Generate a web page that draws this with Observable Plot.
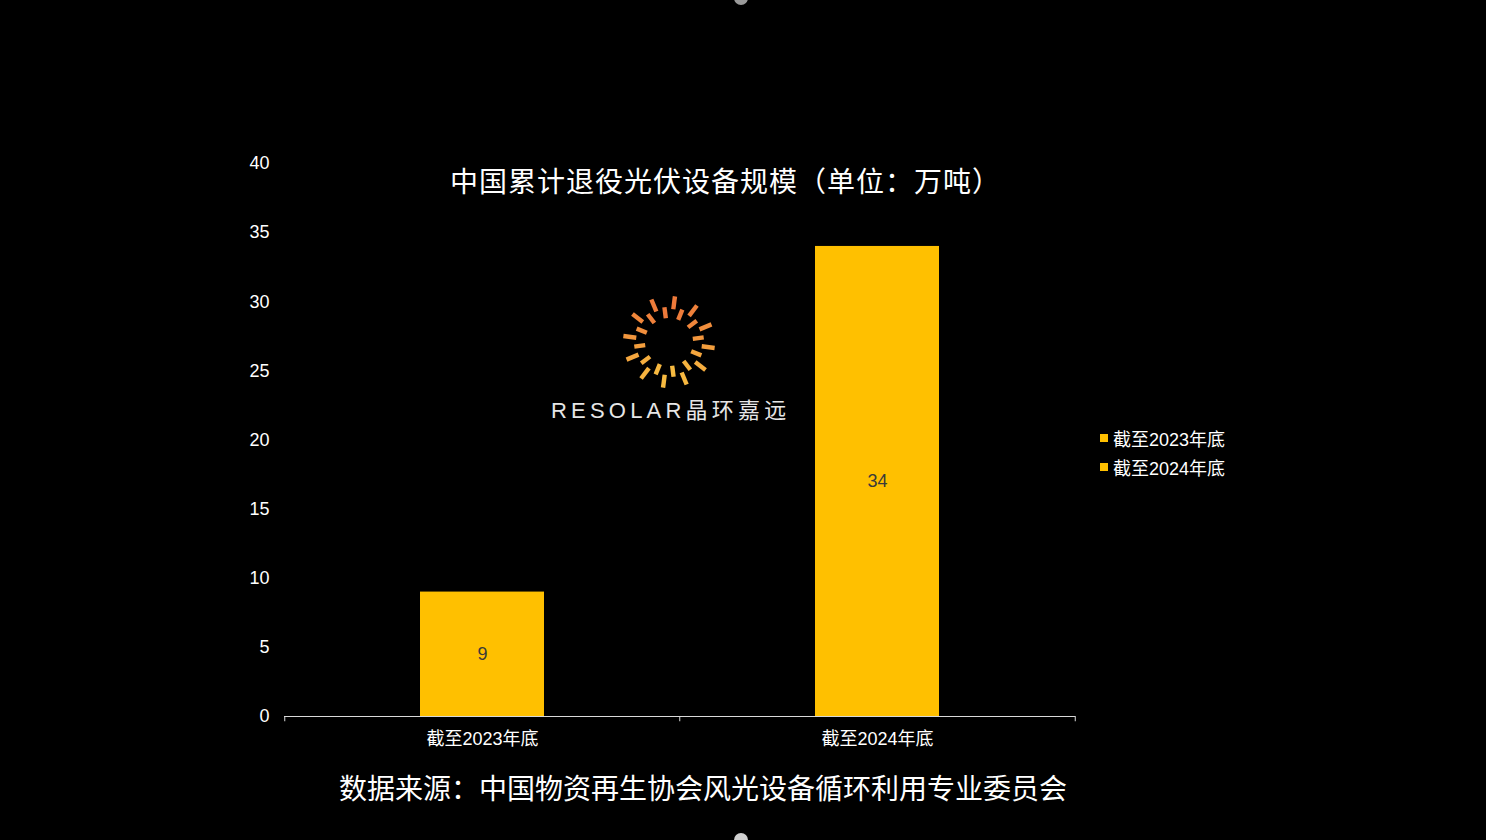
<!DOCTYPE html>
<html>
<head>
<meta charset="utf-8">
<script src="https://cdn.jsdelivr.net/npm/d3@7"></script>
<script src="https://cdn.jsdelivr.net/npm/@observablehq/plot@0.6"></script>
<style>
  html, body { margin: 0; padding: 0; background: #000; }
  #wrap { position: relative; width: 1486px; height: 840px; overflow: hidden; background: #000;
          font-family: "Liberation Sans", "Noto Sans CJK SC", sans-serif; color: #fff; }
  #title { position: absolute; left: 0; width: 1451px; top: 161px; text-align: center; letter-spacing: 1px;
           font-family: "Noto Sans CJK SC", sans-serif; font-size: 28px; color: #fff; line-height: 38px; }
  #caption { position: absolute; left: 0; width: 1406px; top: 767px; text-align: center;
             font-family: "Noto Sans CJK SC", sans-serif; font-size: 28px; color: #fff; line-height: 40px; }
  #legend { position: absolute; left: 1100px; top: 423px; font-size: 18px; color: #fff;
            font-family: "Liberation Sans", "Noto Sans CJK SC", sans-serif; }
  .li { display: flex; align-items: center; height: 29px; }
  .sw { width: 8px; height: 8px; background: #FFC000; margin-right: 5px; }
  #logo { position: absolute; left: 540px; top: 290px; }
  .dot { position: absolute; left: 734px; width: 14px; height: 14px; border-radius: 50%; background: #9a9a9a; }
</style>
</head>
<body>
<div id="wrap">
  <div id="chart"></div>
  <div id="title"></div>
  <div id="caption"></div>
  <div id="legend"></div>
  <div id="logo"></div>
  <div class="dot" style="top:-9px;"></div>
  <div class="dot" style="top:833px;background:#d0d0d0;"></div>
</div>
<script>
const categories = ["截至2023年底", "截至2024年底"];
const values = [9, 34];
const yTicks = [0, 5, 10, 15, 20, 25, 30, 35, 40];
const titleText = "中国累计退役光伏设备规模（单位：万吨）";
const captionText = "数据来源：中国物资再生协会风光设备循环利用专业委员会";
const logoText = "RESOLAR晶环嘉远";

const data = categories.map((c, i) => ({category: c, value: values[i]}));

const W = 1486, H = 840;
const mL = 284, mR = 411, mT = 163, mB = 124;
const pInner = 0.686, pOuter = 0.343;
const step = (W - mL - mR) / (categories.length - pInner + 2 * pOuter);

const plot = Plot.plot({
  width: W,
  height: H,
  marginLeft: mL,
  marginRight: mR,
  marginTop: mT,
  marginBottom: mB,
  style: {background: "#000", color: "#fff", fontSize: "18px", fontFamily: "'Liberation Sans', 'Noto Sans CJK SC', sans-serif"},
  x: {domain: categories, paddingInner: pInner, paddingOuter: pOuter, label: null, tickSize: 0, tickPadding: 16},
  y: {domain: [0, 40], ticks: yTicks, label: null, tickSize: 0, tickPadding: 15},
  marks: [
    Plot.barY(data, {x: "category", y: "value", fill: "#FFC000"}),
    Plot.text(data, {x: "category", y: d => d.value / 2, text: d => String(d.value), fill: "#3a3a3a", fontSize: 18}),
    Plot.ruleY([0], {stroke: "#d9d9d9", strokeWidth: 1}),
    Plot.ruleX(categories, {x: d => d, y1: 0, y2: -0.38, dx: -step / 2, stroke: "#d9d9d9"}),
    Plot.ruleX([categories[categories.length - 1]], {x: d => d, y1: 0, y2: -0.38, dx: step / 2, stroke: "#d9d9d9"})
  ]
});
document.getElementById("chart").appendChild(plot);

document.getElementById("title").textContent = titleText;
document.getElementById("caption").textContent = captionText;

const legend = document.getElementById("legend");
categories.forEach(c => {
  const row = document.createElement("div");
  row.className = "li";
  row.innerHTML = `<div class="sw"></div><span>${c}</span>`;
  legend.appendChild(row);
});

// decorative logo watermark
const ns = "http://www.w3.org/2000/svg";
const svg = document.createElementNS(ns, "svg");
svg.setAttribute("width", 260);
svg.setAttribute("height", 140);
const cx = 129, cy = 52;
const nRays = 24;
for (let i = 0; i < nRays; i++) {
  const a = (i / nRays) * 2 * Math.PI + 0.13;
  const outer = i % 2 === 0;
  const r1 = outer ? 33 : 24, r2 = outer ? 46 : 35;
  const ln = document.createElementNS(ns, "line");
  ln.setAttribute("x1", cx + r1 * Math.cos(a));
  ln.setAttribute("y1", cy + r1 * Math.sin(a));
  ln.setAttribute("x2", cx + r2 * Math.cos(a));
  ln.setAttribute("y2", cy + r2 * Math.sin(a));
  const t = (Math.sin(a) + 1) / 2;
  ln.setAttribute("stroke", d3.interpolateRgb("#EE7A3A", "#F7BA40")(t));
  ln.setAttribute("stroke-width", 4.4);
  ln.setAttribute("stroke-linecap", "butt");
  svg.appendChild(ln);
}
const tx = document.createElementNS(ns, "text");
tx.setAttribute("x", 11);
tx.setAttribute("y", 128);
tx.setAttribute("fill", "#e6e6e6");
tx.setAttribute("font-size", 22);
tx.setAttribute("letter-spacing", 4.2);
tx.setAttribute("font-family", "'Liberation Sans', 'Noto Sans CJK SC', sans-serif");
tx.textContent = logoText;
svg.appendChild(tx);
document.getElementById("logo").appendChild(svg);
</script>
</body>
</html>
